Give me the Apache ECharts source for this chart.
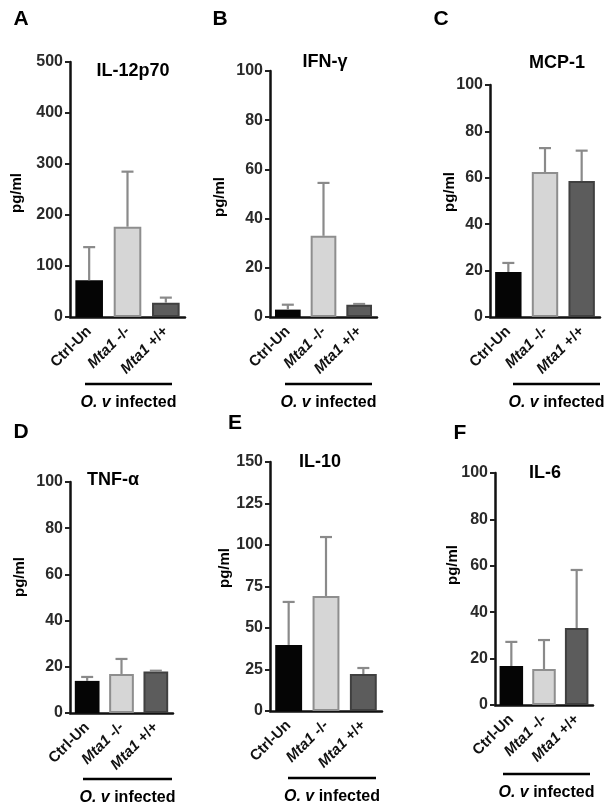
<!DOCTYPE html>
<html><head><meta charset="utf-8">
<script src="https://cdn.jsdelivr.net/npm/echarts@6/dist/echarts.min.js"></script>
<style>html,body{margin:0;padding:0;background:#fff}#c{width:610px;height:811px}</style>
</head><body><div id="c"></div>
<script>
const categories = ['Ctrl-Un', 'Mta1 -/-', 'Mta1 +/+'];
const panelLetters = ['A', 'B', 'C', 'D', 'E', 'F'];
const panelTitles = ['IL-12p70', 'IFN-γ', 'MCP-1', 'TNF-α', 'IL-10', 'IL-6'];
const il12Mean = [72, 177, 28];
const il12Err = [65, 108, 10];
const ifnMean = [3, 33, 5];
const ifnErr = [2, 21.5, 0.3];
const mcpMean = [19.4, 62.5, 58.6];
const mcpErr = [3.9, 10.3, 13.1];
const tnfMean = [13.9, 16.9, 18];
const tnfErr = [1.7, 6.5, 0.3];
const il10Mean = [39.8, 69.3, 22.3];
const il10Err = [25.9, 35.5, 3.6];
const il6Mean = [16.8, 15.5, 33.2];
const il6Err = [10.4, 12.5, 25];
const yMax = [500, 100, 100, 100, 150, 100];
const yStep = [100, 20, 20, 20, 25, 20];
const yLabel = 'pg/ml';
const groupLabel = 'O. v infected';

const means = [il12Mean, ifnMean, mcpMean, tnfMean, il10Mean, il6Mean];
const errs = [il12Err, ifnErr, mcpErr, tnfErr, il10Err, il6Err];

// layout (pixels)
const grids = [
  {left: 70, top: 62, width: 115, height: 255},
  {left: 270, top: 71, width: 107, height: 246},
  {left: 490, top: 85, width: 110, height: 232},
  {left: 70, top: 482, width: 103, height: 231},
  {left: 270, top: 462, width: 112, height: 249},
  {left: 495, top: 473, width: 98, height: 232}
];
const titlePos = [[133,71],[325,62],[557,63],[113,480],[320,462],[545,473]];
const letterPos = [[21,19],[220,19],[441,19],[21,432],[235,423],[460,433]];
const yNamePos = [[17,193],[220,197],[450,192],[20,577],[225,568],[453,565]];
const linePos = [[85,172,384],[285,372,384],[513,600,384],[83,172,779],[288,376,778],[503,590,774]];

const barFill = ['#050505', '#d6d6d6', '#5c5c5c'];
const barBorder = ['#050505', '#8e8e8e', '#404040'];
const FONT = 'Liberation Sans, Arial, sans-serif';

const chart = echarts.init(document.getElementById('c'));
const option = {
  animation: false,
  backgroundColor: '#fff',
  grid: [], xAxis: [], yAxis: [], series: [], graphic: []
};

for (let p = 0; p < 6; p++) {
  option.grid.push(Object.assign({containLabel: false}, grids[p]));
  option.xAxis.push({
    type: 'category', gridIndex: p, data: categories,
    axisLine: {lineStyle: {color: '#111', width: 2.5}},
    axisTick: {alignWithLabel: true, length: 7, lineStyle: {color: '#222', width: 2}},
    axisLabel: {
      rotate: 45, margin: 12, fontSize: 15, fontWeight: 'bold', color: '#111', fontFamily: FONT,
      interval: 0,
      formatter: v => v.startsWith('Mta1') ? '{i|Mta1}' + v.slice(4) : v,
      rich: {i: {fontStyle: 'italic', fontWeight: 'bold', fontSize: 15, color: '#111', fontFamily: FONT}}
    },
    splitLine: {show: false}
  });
  option.yAxis.push({
    type: 'value', gridIndex: p, min: 0, max: yMax[p], interval: yStep[p],
    axisLine: {show: true, lineStyle: {color: '#111', width: 2.5}},
    axisTick: {show: true, length: 5, lineStyle: {color: '#222', width: 2}},
    axisLabel: {fontSize: 16, fontWeight: 'bold', color: '#2a2a2a', margin: 7, fontFamily: FONT},
    splitLine: {show: false}
  });
  option.series.push({
    type: 'bar', xAxisIndex: p, yAxisIndex: p, barWidth: '72%',
    data: means[p].map((v, i) => ({value: v, itemStyle: {color: barFill[i], borderColor: barBorder[i], borderWidth: i === 0 ? 0 : 2}})),
    z: 2
  });
  option.series.push({
    type: 'custom', xAxisIndex: p, yAxisIndex: p, z: 3,
    data: means[p].map((v, i) => [i, v, v + errs[p][i]]),
    renderItem: function (params, api) {
      const base = api.coord([api.value(0), api.value(1)]);
      const top = api.coord([api.value(0), api.value(2)]);
      const hw = 6;
      const st = {stroke: '#8a8a8a', lineWidth: 2.2};
      return {type: 'group', children: [
        {type: 'line', shape: {x1: base[0], y1: base[1], x2: top[0], y2: top[1]}, style: st},
        {type: 'line', shape: {x1: top[0] - hw, y1: top[1], x2: top[0] + hw, y2: top[1]}, style: st}
      ]};
    }
  });
  option.graphic.push({type: 'text', x: titlePos[p][0], y: titlePos[p][1],
    style: {text: panelTitles[p], font: 'bold 18px ' + FONT, fill: '#000', align: 'center', verticalAlign: 'middle'}});
  option.graphic.push({type: 'text', x: letterPos[p][0], y: letterPos[p][1],
    style: {text: panelLetters[p], font: 'bold 21px ' + FONT, fill: '#000', align: 'center', verticalAlign: 'middle'}});
  option.graphic.push({type: 'text', x: yNamePos[p][0], y: yNamePos[p][1], rotation: Math.PI / 2,
    style: {text: yLabel, font: 'bold 15px ' + FONT, fill: '#000', align: 'center', verticalAlign: 'middle'}});
  const lp = linePos[p];
  option.graphic.push({type: 'line', shape: {x1: lp[0], y1: lp[2], x2: lp[1], y2: lp[2]},
    style: {stroke: '#000', lineWidth: 2.5}});
  option.graphic.push({type: 'text', x: (lp[0] + lp[1]) / 2, y: lp[2] + 19,
    style: {text: '{i|O. v} ' + groupLabel.slice(5), font: 'bold 16px ' + FONT, fill: '#000', align: 'center', verticalAlign: 'middle',
      rich: {i: {fontStyle: 'italic', fontWeight: 'bold', fontSize: 16, fontFamily: FONT, fill: '#000'}}}});
}
chart.setOption(option);
</script>
</body></html>
